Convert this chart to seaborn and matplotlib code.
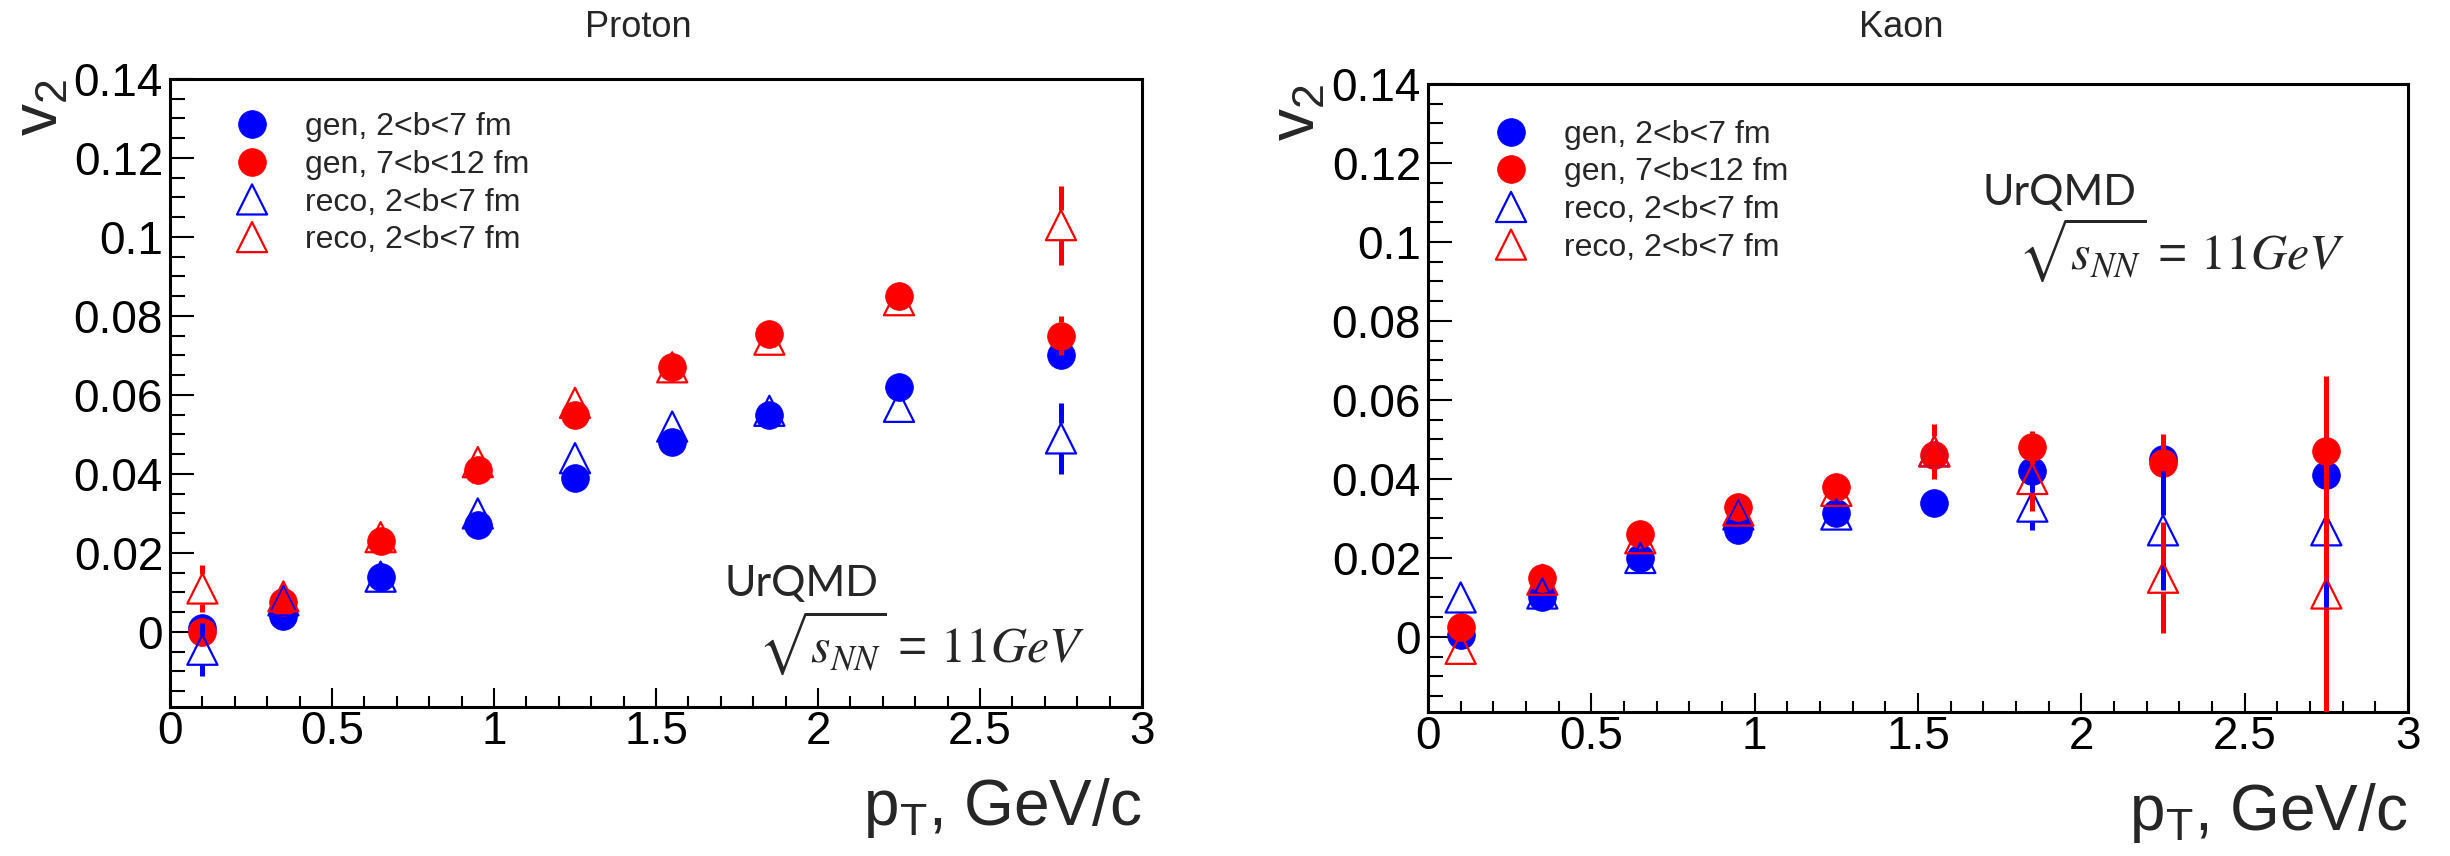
import numpy as np
import pandas as pd
import matplotlib
matplotlib.use("Agg")
import matplotlib.pyplot as plt
import seaborn as sns
from matplotlib.ticker import MultipleLocator, FuncFormatter

# ---------------- data ----------------
pt = [0.1, 0.35, 0.65, 0.95, 1.25, 1.55, 1.85, 2.25, 2.75]

labels = ["gen, 2<b<7 fm", "gen, 7<b<12 fm", "reco, 2<b<7 fm", "reco, 2<b<7 fm"]

# Proton
p_gen_b = [0.001, 0.004, 0.014, 0.027, 0.039, 0.048, 0.055, 0.062, 0.070]
p_gen_b_err = [0.002, 0.0015, 0.0015, 0.0015, 0.0015, 0.0015, 0.002, 0.002, 0.003]
p_gen_r = [0.000, 0.0075, 0.023, 0.041, 0.055, 0.067, 0.0755, 0.085, 0.075]
p_gen_r_err = [0.003, 0.0015, 0.0015, 0.0015, 0.0015, 0.002, 0.003, 0.002, 0.005]
p_reco_b = [-0.0045, 0.008, 0.014, 0.030, 0.044, 0.052, 0.056, 0.057, 0.049]
p_reco_b_err = [0.0067, 0.002, 0.002, 0.002, 0.002, 0.002, 0.002, 0.003, 0.009]
p_reco_r = [0.011, 0.009, 0.024, 0.043, 0.058, 0.067, 0.074, 0.084, 0.103]
p_reco_r_err = [0.006, 0.002, 0.002, 0.002, 0.002, 0.002, 0.002, 0.003, 0.010]

# Kaon
k_gen_b = [0.0005, 0.010, 0.020, 0.027, 0.0315, 0.034, 0.042, 0.045, 0.041]
k_gen_b_err = [0.001, 0.001, 0.001, 0.0015, 0.0015, 0.002, 0.003, 0.006, 0.008]
k_gen_r = [0.0025, 0.015, 0.026, 0.033, 0.038, 0.046, 0.048, 0.044, 0.047]
k_gen_r_err = [0.001, 0.001, 0.0015, 0.0015, 0.002, 0.003, 0.0042, 0.0075, 0.010]
k_reco_b = [0.010, 0.011, 0.020, 0.031, 0.031, 0.047, 0.033, 0.027, 0.027]
k_reco_b_err = [0.002, 0.002, 0.002, 0.002, 0.002, 0.004, 0.006, 0.015, 0.034]
k_reco_r = [-0.003, 0.0145, 0.025, 0.032, 0.037, 0.047, 0.040, 0.015, 0.011]
k_reco_r_err = [0.002, 0.002, 0.002, 0.002, 0.003, 0.007, 0.008, 0.014, 0.055]

titles = ["Proton", "Kaon"]
XLIM = (0, 3)
YLIM = (-0.019, 0.14)

# ---------------- style ----------------
sns.set_style("white")
plt.rcParams["font.family"] = ["Liberation Sans", "DejaVu Sans"]
plt.rcParams["mathtext.default"] = "regular"

fig = plt.figure(figsize=(24.5, 8.56), dpi=100)
W, H = 2450, 856
ax1 = fig.add_axes([170 / W, 1 - 707 / H, 972 / W, 628 / H])
ax2 = fig.add_axes([1428 / W, 1 - 712 / H, 980 / W, 628 / H])

BLUE = (0, 0, 1)
RED = (1, 0, 0)
styles = [
    dict(marker="o", s=400, color=BLUE, edgecolor=BLUE, linewidth=0.5, half=14),
    dict(marker="o", s=400, color=RED, edgecolor=RED, linewidth=0.5, half=14),
    dict(marker="^", s=470, facecolor="none", edgecolor=BLUE, linewidth=1.6, half=15),
    dict(marker="^", s=470, facecolor="none", edgecolor=RED, linewidth=1.6, half=15),
]
ecolors = [BLUE, RED, BLUE, RED]


def draw_panel(ax, series, legend_anchor, urq_pos, sqrt_pos):
    ax.set_xlim(*XLIM)
    ax.set_ylim(*YLIM)
    ax_h_px = ax.get_position().height * fig.get_figheight() * fig.dpi
    z = 3
    for (vals, errs), st, ec, lab in zip(series, styles, ecolors, labels):
        st = dict(st)
        half = st.pop("half")
        gap = half * (YLIM[1] - YLIM[0]) / ax_h_px
        df = pd.DataFrame({"pt": pt, "v2": vals, "err": errs})
        big = df[df["err"] > gap]
        ax.vlines(big["pt"], big["v2"] - big["err"], big["v2"] - gap,
                  colors=[ec], linewidth=3.6, zorder=z, clip_on=True)
        ax.vlines(big["pt"], big["v2"] + gap, big["v2"] + big["err"],
                  colors=[ec], linewidth=3.6, zorder=z, clip_on=True)
        sns.scatterplot(data=df, x="pt", y="v2", ax=ax, label=lab, zorder=z + 1,
                        legend=False, **st)
        z += 2
    # axes cosmetics
    ax.set_xlabel(r"p$_{T}$, GeV/c", fontsize=46, loc="right")
    ax.xaxis.set_label_coords(1.0, -0.11)
    ax.set_ylabel(r"v$_{2}$", fontsize=46, loc="top")
    ax.yaxis.set_label_coords(-0.102, 1.0)
    ax.xaxis.set_major_locator(MultipleLocator(0.5))
    ax.xaxis.set_minor_locator(MultipleLocator(0.1))
    ax.yaxis.set_major_locator(MultipleLocator(0.02))
    ax.yaxis.set_minor_locator(MultipleLocator(0.005))
    fmt = FuncFormatter(lambda v, p: ("%g" % round(v, 4)))
    ax.xaxis.set_major_formatter(fmt)
    ax.yaxis.set_major_formatter(fmt)
    ax.tick_params(axis="both", which="both", direction="in", top=False, right=False,
                   left=True, bottom=True, width=1.5, colors="black", labelsize=33)
    ax.tick_params(axis="y", which="major", length=17, pad=5)
    ax.tick_params(axis="y", which="minor", length=11)
    ax.tick_params(axis="x", which="major", length=14, pad=2)
    ax.tick_params(axis="x", which="minor", length=8)
    for sp in ax.spines.values():
        sp.set_visible(True)
        sp.set_linewidth(2.2)
        sp.set_color("black")
    ax.grid(False)
    handles, labs = ax.get_legend_handles_labels()
    ax.legend(handles, labs, loc="upper left", bbox_to_anchor=legend_anchor,
              frameon=False, borderpad=0, borderaxespad=0, handlelength=1.4,
              handletextpad=0.96, labelspacing=0.24, scatterpoints=1,
              scatteryoffsets=[0.5], prop={"size": 23})
    ax.text(urq_pos[0], urq_pos[1], "UrQMD", transform=ax.transAxes, fontsize=31,
            family=["Lato", "DejaVu Sans"], ha="left", va="center")
    ax.text(sqrt_pos[0], sqrt_pos[1],
            r"$\sqrt{\mathit{s}_{\mathit{NN}}}\,=\,\mathrm{11}\mathit{GeV}$",
            transform=ax.transAxes, fontsize=36, math_fontfamily="stix",
            ha="left", va="center")


draw_panel(ax1,
           [(p_gen_b, p_gen_b_err), (p_gen_r, p_gen_r_err),
            (p_reco_b, p_reco_b_err), (p_reco_r, p_reco_r_err)],
           (0.0614, 0.947), (0.570, 0.196), (0.605, 0.102))
draw_panel(ax2,
           [(k_gen_b, k_gen_b_err), (k_gen_r, k_gen_r_err),
            (k_reco_b, k_reco_b_err), (k_reco_r, k_reco_r_err)],
           (0.0619, 0.943), (0.566, 0.826), (0.602, 0.736))

fig.text(638 / W, 1 - 37 / H, titles[0], fontsize=26, ha="center", va="baseline")
fig.text(1901 / W, 1 - 37 / H, titles[1], fontsize=26, ha="center", va="baseline")

fig.savefig("out.png", dpi=100)
